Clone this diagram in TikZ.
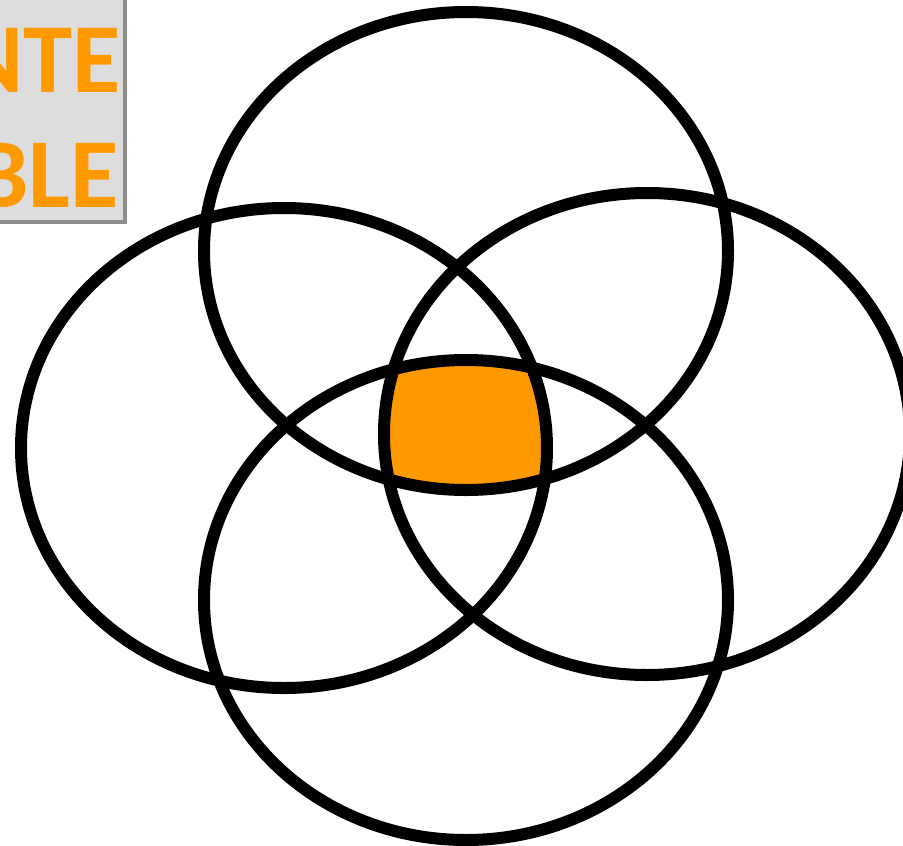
\documentclass[tikz,border=0pt]{standalone}
\usepackage{fontspec}
\newfontfamily\rotulo{Carlito}
\definecolor{naranja}{HTML}{FF9900}
\definecolor{grisfondo}{HTML}{DDDDDD}
\definecolor{grisborde}{HTML}{8C8C8C}
\begin{document}
\begin{tikzpicture}[x=1pt,y=-1pt]
    \useasboundingbox (0,0) rectangle (903,846);

    % Zona común de las cuatro elipses (naranja)
    \begin{scope}
        \clip (466,251) ellipse (262pt and 239pt);
        \clip (284,448) ellipse (263pt and 240pt);
        \clip (647,434) ellipse (263pt and 241pt);
        \clip (466,600) ellipse (262pt and 240pt);
        \fill[naranja] (0,0) rectangle (903,846);
    \end{scope}

    % Las cuatro elipses
    \draw[line width=12pt] (466,251) ellipse (262pt and 239pt);
    \draw[line width=12pt] (284,448) ellipse (263pt and 240pt);
    \draw[line width=12pt] (647,434) ellipse (263pt and 241pt);
    \draw[line width=12pt] (466,600) ellipse (262pt and 240pt);

    % Cuadro del rótulo (cortado por el borde)
    \draw[grisborde, fill=grisfondo, line width=4pt] (-20,-20) rectangle (125,222);
    \node[anchor=base east, inner sep=0, text=naranja,
          font=\rotulo\bfseries\fontsize{99}{118}\selectfont] (linea1) at (121,92) {NTE};
    \node[anchor=base east, inner sep=0, text=naranja,
          font=\rotulo\bfseries\fontsize{99}{118}\selectfont] (linea2) at (119,207) {BLE};
\end{tikzpicture}
\end{document}
